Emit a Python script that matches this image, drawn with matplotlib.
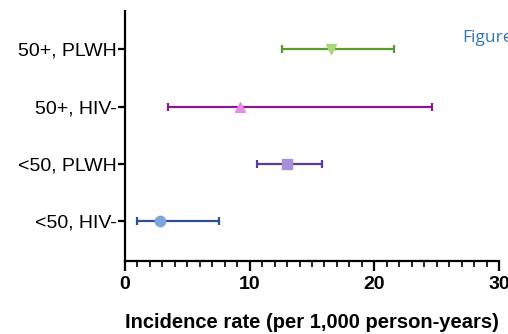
import matplotlib
matplotlib.use("Agg")
import matplotlib.pyplot as plt
from matplotlib.ticker import MultipleLocator

categories = ["<50, HIV-", "<50, PLWH", "50+, HIV-", "50+, PLWH"]
rates = [2.8, 13.0, 9.2, 16.5]
ci_low = [1.0, 10.6, 3.45, 12.6]
ci_high = [7.5, 15.8, 24.6, 21.6]
line_colors = ["#2f4f96", "#5b3a9e", "#8b1a8b", "#5a9a2a"]
marker_colors = ["#7fa6dc", "#a88fd8", "#e48fe4", "#a8d878"]
markers = ["o", "s", "^", "v"]

plt.rcParams['font.family'] = ['Liberation Sans', 'DejaVu Sans']
fig = plt.figure(figsize=(5.08, 3.34), dpi=100)
ax = fig.add_axes([125/508, (334-261)/334, (499-125)/508, (261-11)/334])

for i, cat in enumerate(categories):
    ax.errorbar([rates[i]], [i],
                xerr=[[rates[i]-ci_low[i]], [ci_high[i]-rates[i]]],
                fmt='none', ecolor=line_colors[i], elinewidth=1.6,
                capsize=3.2, capthick=1.6, zorder=2)
    ax.plot([rates[i]], [i], marker=markers[i], color=marker_colors[i],
            markersize=7.5, linestyle='none', zorder=3)

ax.set_xlim(0, 30)
ax.set_ylim(-0.7, 3.67)
ax.set_yticks(range(len(categories)))
ax.set_yticklabels(categories, fontsize=14)
ax.xaxis.set_major_locator(MultipleLocator(10))
ax.xaxis.set_minor_locator(MultipleLocator(1))
for lab in ax.get_xticklabels():
    lab.set_fontweight('bold')
    lab.set_fontsize(14)
ax.spines['top'].set_visible(False)
ax.spines['right'].set_visible(False)
ax.spines['left'].set_linewidth(1.6)
ax.spines['bottom'].set_linewidth(1.6)
ax.tick_params(axis='x', which='major', length=7, width=1.6, pad=4)
ax.tick_params(axis='x', which='minor', length=4, width=1.2)
ax.tick_params(axis='y', which='major', length=5, width=1.6, pad=1)
ax.set_xlabel("Incidence rate (per 1,000 person-years)", fontsize=14.5,
              fontweight='bold', labelpad=14)

fig.text(462/508, 1-38/334, "Figure", color="#2e75b6", fontsize=12.5,
         family=['Open Sans', 'DejaVu Sans'], va='center', ha='left')

fig.savefig("out.png", dpi=100)
